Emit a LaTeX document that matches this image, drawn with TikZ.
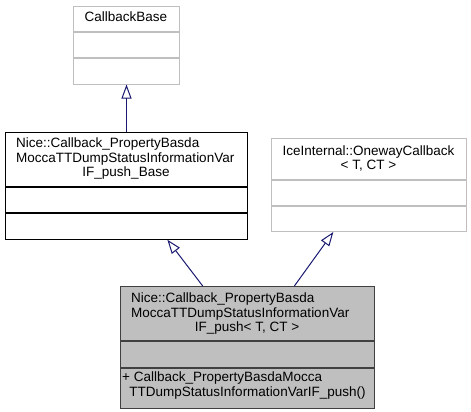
\documentclass[tikz,border=0pt]{standalone}
\usepackage{fontspec}
\setmainfont{Liberation Sans}
\usetikzlibrary{arrows.meta,calc}
\definecolor{edgeblue}{HTML}{191970}
\definecolor{greyline}{HTML}{BFBFBF}
\definecolor{darkline}{HTML}{404040}
\definecolor{fillgrey}{HTML}{BFBFBF}
\begin{document}
\begin{tikzpicture}[x=1pt,y=-1pt,
  part/.style={draw, rectangle, inner sep=0pt, anchor=north west, line width=1pt},
  greypart/.style={part, draw=greyline},
  blackpart/.style={part, draw=black},
  curpart/.style={part, draw=darkline, fill=fillgrey},
  txt/.style={inner sep=0pt, font=\fontsize{13.5}{14.7}\selectfont},
  ltxt/.style={txt, anchor=base west},
  ctxt/.style={txt, anchor=base},
  inh/.style={draw=edgeblue, line width=1pt, -{Triangle[open, length=14pt, width=10pt, fill=white]}}
]
\useasboundingbox (0,0) rectangle (471,412);

% CallbackBase
\node[greypart, minimum width=106, minimum height=25.5] (b1t) at (73,6) {};
\node[greypart, minimum width=106, minimum height=25] (b1a) at (b1t.south west) {};
\node[greypart, minimum width=106, minimum height=25] (b1m) at (b1a.south west) {};
\node[ctxt] (b1l1) at (126,22) {CallbackBase};

% Nice::..._Base
\node[blackpart, minimum width=241.7, minimum height=54] (b2t) at (5,131.7) {};
\node[blackpart, minimum width=241.7, minimum height=25] (b2a) at (b2t.south west) {};
\node[blackpart, minimum width=241.7, minimum height=26] (b2m) at (b2a.south west) {};
\node[ltxt] (b2l1) at (16,147.3) {Nice::Callback\_PropertyBasda};
\node[ltxt] (b2l2) at (16,162.2) {MoccaTTDumpStatusInformationVar};
\node[ctxt] (b2l3) at (126,176.9) {IF\_push\_Base};

% IceInternal::OnewayCallback
\node[greypart, minimum width=195, minimum height=40.7] (b3t) at (271,138.3) {};
\node[greypart, minimum width=195, minimum height=25] (b3a) at (b3t.south west) {};
\node[greypart, minimum width=195, minimum height=25] (b3m) at (b3a.south west) {};
\node[ctxt] (b3l1) at (368.5,155) {IceInternal::OnewayCallback};
\node[ctxt] (b3l2) at (368.5,169.5) {< T, CT >};

% Nice::Callback_... < T, CT >
\node[curpart, minimum width=254.3, minimum height=54] (b4t) at (120,286) {};
\node[curpart, minimum width=254.3, minimum height=25.7] (b4a) at (b4t.south west) {};
\node[curpart, minimum width=254.3, minimum height=40] (b4m) at (b4a.south west) {};
\node[ltxt] (b4l1) at (131,302.7) {Nice::Callback\_PropertyBasda};
\node[ltxt] (b4l2) at (131,317.4) {MoccaTTDumpStatusInformationVar};
\node[ctxt] (b4l3) at (247,331.5) {IF\_push< T, CT >};
\node[ltxt] (b4m1) at (122,381.7) {+ Callback\_PropertyBasdaMocca};
\node[ctxt] (b4m2) at (247.5,396.5) {TTDumpStatusInformationVarIF\_push()};

% inheritance
\draw[inh] (b2t.north -| b1m.south) -- (b1m.south);
\draw[inh] ($(b4t.north west)!0.324!(b4t.north east)$) -- ($(b2m.south west)!0.669!(b2m.south east)$);
\draw[inh] ($(b4t.north west)!0.683!(b4t.north east)$) -- ($(b3m.south west)!0.318!(b3m.south east)$);
\end{tikzpicture}
\end{document}
